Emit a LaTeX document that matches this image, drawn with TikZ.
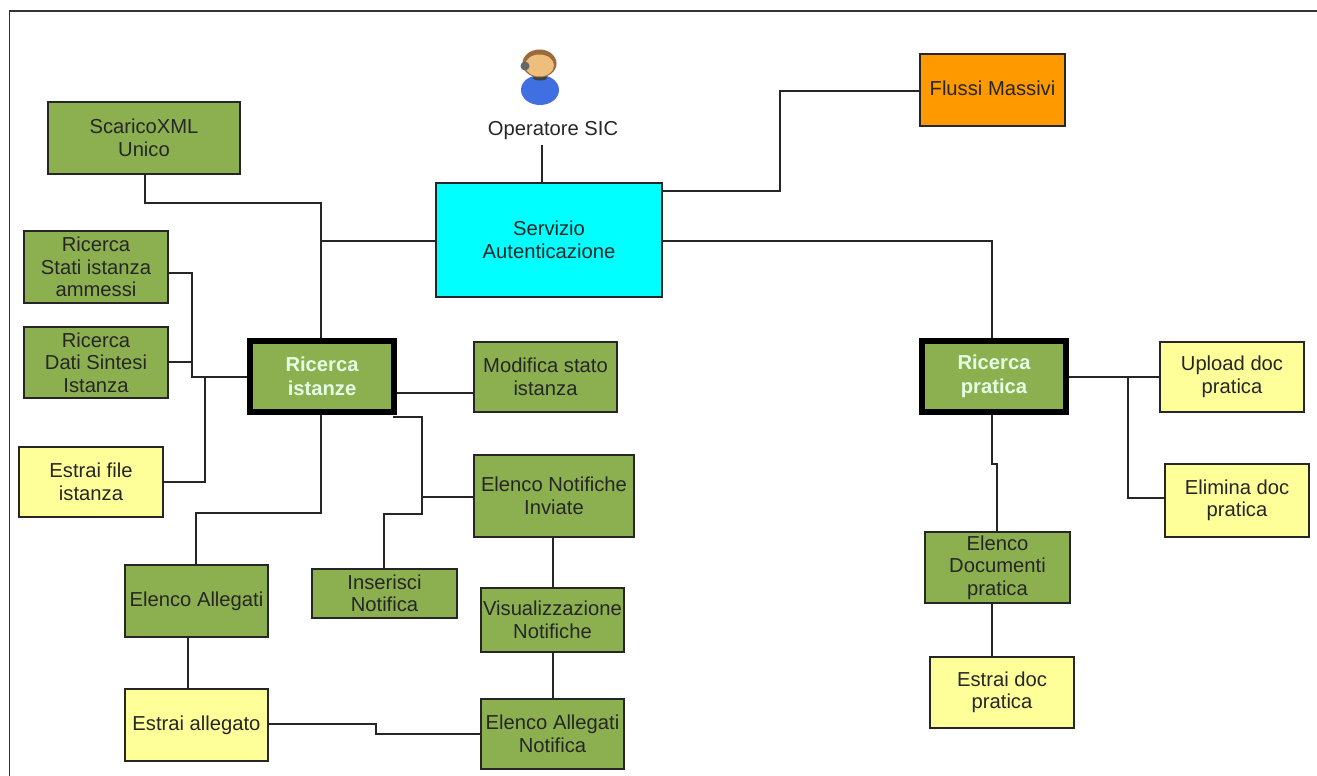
\documentclass[tikz,border=0pt]{standalone}
\usepackage{fontspec}
\setmainfont{Liberation Sans}
\definecolor{boxgreen}{HTML}{8CB050}
\definecolor{boxyellow}{HTML}{FFFF99}
\definecolor{boxcyan}{HTML}{00FFFF}
\definecolor{boxorange}{HTML}{FF9900}
\definecolor{bodyblue}{HTML}{3F6FE0}
\definecolor{hairbrown}{HTML}{9A6A3A}
\definecolor{faceskin}{HTML}{EDBE7C}
\tikzset{
  x=1pt,y=-1pt,
  bx/.style={draw=black!85,line width=1.1pt,inner sep=0pt,align=center,font=\fontsize{20.2}{22.5}\selectfont,text=black!85},
  grn/.style={bx,fill=boxgreen},
  ylw/.style={bx,fill=boxyellow},
  main/.style={draw=black,line width=6pt,fill=boxgreen,inner sep=0pt,align=center,font=\fontsize{20.2}{24}\selectfont\bfseries,text=white!90!green},
  conn/.style={draw=black!85,line width=1.2pt},
}
\newcommand{\boxat}[7]{\node[#2,minimum width=#5-#3,minimum height=#6-#4] (#1) at ({(#3+#5)/2},{(#4+#6)/2}) {#7};}
\begin{document}
\begin{tikzpicture}
\useasboundingbox (0,0) rectangle (1317,776);
\fill[white] (0,0) rectangle (1317,776);
\draw[black!80,line width=1.4pt] (9.5,776) -- (9.5,11) -- (1317,11);
% user icon
\fill[bodyblue] (540,90) ellipse (19 and 15);
\fill[black!75] (540,78) ellipse (7 and 2.5);
\fill[hairbrown] (539.5,63.5) ellipse (17 and 14);
\fill[faceskin] (539.5,65.5) ellipse (14.5 and 11);
\fill[black!60] (525,66) circle (4.5);
\node[inner sep=0pt,font=\fontsize{20.2}{22}\selectfont,text=black!85] (op) at (553,131) {Operatore SIC};
\coordinate (opb) at (542,145);
% nodes
\boxat{auth}{bx,fill=boxcyan}{436}{183}{662}{297}{Servizio\\Autenticazione}
\boxat{flussi}{bx,fill=boxorange}{920}{54}{1065}{126}{\raisebox{3pt}{Flussi Massivi}}
\boxat{xml}{grn}{48}{102}{240}{174}{ScaricoXML\\Unico}
\boxat{rs}{grn}{24}{231}{168}{303}{Ricerca\\Stati istanza\\ammessi}
\boxat{rd}{grn}{24}{327}{168}{398}{Ricerca\\Dati Sintesi\\Istanza}
\boxat{ef}{ylw}{19}{447}{163}{517}{Estrai file\\istanza}
\boxat{ri}{main}{250}{341}{394}{411.5}{Ricerca\\istanze}
\boxat{ms}{grn}{474}{342}{617}{412}{Modifica stato\\istanza}
\boxat{en}{grn}{474}{455}{634}{537}{Elenco Notifiche\\Inviate}
\boxat{ins}{grn}{312}{569}{457}{618}{Inserisci\\Notifica}
\boxat{vis}{grn}{481}{588}{624}{652}{Visualizzazione\\Notifiche}
\boxat{ea}{grn}{125}{565}{268}{637}{Elenco Allegati}
\boxat{esa}{ylw}{125}{689}{268}{761}{Estrai allegato}
\boxat{ean}{grn}{481}{699}{624}{769}{Elenco Allegati\\Notifica}
\boxat{rp}{main}{922}{341}{1066}{411.5}{Ricerca\\pratica}
\boxat{up}{ylw}{1160}{342}{1304}{412}{Upload doc\\pratica}
\boxat{el}{ylw}{1165}{464}{1309}{537}{Elimina doc\\pratica}
\boxat{edp}{grn}{925}{532}{1070}{603}{Elenco\\Documenti\\pratica}
\boxat{edoc}{ylw}{930}{657}{1074}{728}{Estrai doc\\pratica}
% connectors
\draw[conn] (opb) -- (opb |- auth.north);
\draw[conn] (auth.east |- 0,191) -| (780,91) -- (flussi.west |- 0,91);
\draw[conn] (xml.south -| 145,0) |- (321,203) -- (ri.north -| 321,0);
\draw[conn] (auth.west |- 0,241) -- (321,241);
\draw[conn] (rs.east |- 0,273) -| (192,377) -- (ri.west |- 0,377);
\draw[conn] (rd.east |- 0,362) -- (192,362);
\draw[conn] (ef.east |- 0,482) -| (205,377);
\draw[conn] (ri.east |- 0,393) -- (ms.west |- 0,393);
\draw[conn] (393,417) -| (422,514) -| (ins.north -| 384,0);
\draw[conn] (422,497) -- (en.west |- 0,497);
\draw[conn] (ri.south -| 321,0) |- (196,513) -- (ea.north -| 196,0);
\draw[conn] (en.south -| 553,0) -- (vis.north -| 553,0);
\draw[conn] (vis.south -| 553,0) -- (ean.north -| 553,0);
\draw[conn] (ea.south -| 188,0) -- (esa.north -| 188,0);
\draw[conn] (esa.east |- 0,724) -- (376,724) -- (376,734) -- (ean.west |- 0,734);
\draw[conn] (auth.east |- 0,241) -| (rp.north -| 992,0);
\draw[conn] (rp.east |- 0,377) -- (up.west |- 0,377);
\draw[conn] (1128,377) |- (el.west |- 0,498);
\draw[conn] (rp.south -| 992,0) -- (992,464) -- (997,464) -- (edp.north -| 997,0);
\draw[conn] (edp.south -| 992,0) -- (edoc.north -| 992,0);
\end{tikzpicture}
\end{document}
